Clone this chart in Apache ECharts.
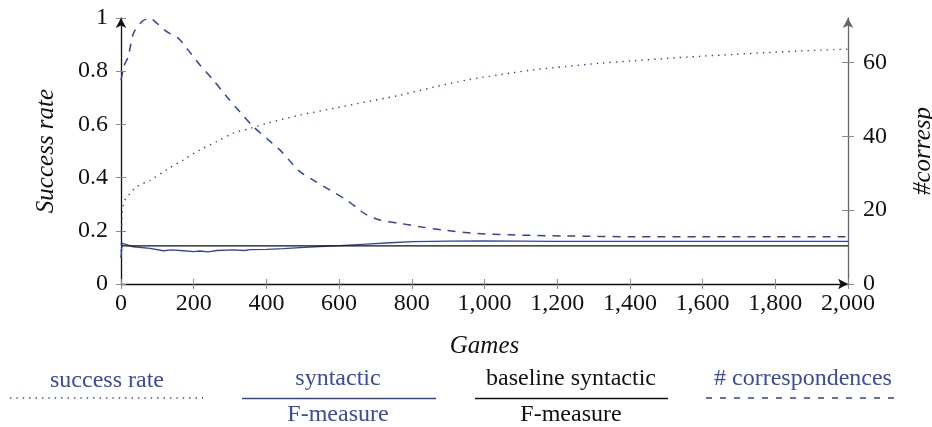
<!DOCTYPE html>
<html>
<head>
<meta charset="utf-8">
<script src="https://cdn.jsdelivr.net/npm/echarts@6/dist/echarts.min.js"></script>
<style>html,body{margin:0;padding:0;background:#fff}#c{width:932px;height:427px}</style>
</head>
<body>
<div id="c"></div>
<script>
// ---- data ----
var xTicks = [0, 200, 400, 600, 800, 1000, 1200, 1400, 1600, 1800, 2000];
var leftTicks = [0, 0.2, 0.4, 0.6, 0.8, 1];
var rightTicks = [0, 20, 40, 60];

var successGames = [0, 1, 2, 3, 5, 8, 11, 15, 25, 43, 80, 126, 171, 217, 263, 309, 355, 401, 492, 584, 676, 768, 860, 951, 1043, 1134, 1226, 1318, 1410, 1501, 1593, 1685, 1776, 1868, 1960, 2000];
var successRate = [0.10, 0.18, 0.22, 0.26, 0.29, 0.30, 0.316, 0.325, 0.34, 0.366, 0.39, 0.43, 0.466, 0.504, 0.535, 0.567, 0.585, 0.604, 0.635, 0.66, 0.685, 0.71, 0.74, 0.767, 0.787, 0.805, 0.818, 0.83, 0.839, 0.848, 0.856, 0.863, 0.87, 0.876, 0.881, 0.883];

var synGames = [0, 3, 11, 34, 80, 116, 140, 171, 200, 217, 240, 263, 309, 340, 355, 401, 447, 492, 547, 602, 676, 740, 804, 900, 997, 1000, 1200, 1500, 2000];
var synFMeasure = [0.10, 0.153, 0.150, 0.14, 0.134, 0.125, 0.128, 0.125, 0.122, 0.124, 0.121, 0.126, 0.128, 0.126, 0.129, 0.130, 0.133, 0.137, 0.141, 0.144, 0.150, 0.155, 0.159, 0.161, 0.162, 0.160, 0.160, 0.160, 0.160];

var baseGames = [0, 2000];
var baseFMeasure = [0.143, 0.143];

var corrGames = [0, 5, 10, 20, 34, 57, 78, 100, 126, 158, 185, 217, 254, 291, 327, 364, 401, 437, 470, 492, 529, 575, 621, 657, 676, 713, 768, 822, 887, 979, 1070, 1226, 1409, 1600, 1800, 2000];
var correspondences = [55.2, 57.5, 59.5, 61.5, 67.8, 71, 71.9, 70.5, 68.3, 66.5, 63.3, 59.3, 55.2, 50.7, 46.6, 42.6, 39.4, 36.3, 32.7, 30.4, 28.1, 25.4, 22.7, 20, 18.7, 17.3, 16.4, 15.5, 14.6, 13.7, 13.3, 13.0, 12.8, 12.8, 12.8, 12.8];

function pairs(xs, ys) { return xs.map(function (x, i) { return [x, ys[i]]; }); }

var BLUE = '#3243a3';
var TXT = '#3a4aa8';
var FONT = '"Liberation Serif", "Times New Roman", serif';
var TICKC = '#8a8a8a';

var chart = echarts.init(document.getElementById('c'), null, {renderer: 'canvas'});

function legendLine(x1, x2, y, color, dash, w) {
  return {type: 'line', shape: {x1: x1, y1: y, x2: x2, y2: y},
    style: {stroke: color, lineWidth: w, lineDash: dash}};
}
function legendText(cx, cy, t, color) {
  return {type: 'text', x: cx, y: cy, style: {text: t, fill: color, font: '24px ' + FONT, align: 'center', verticalAlign: 'middle'}};
}

chart.setOption({
  animation: false,
  grid: {left: 121, right: 84, top: 18, bottom: 143, containLabel: false, outerBoundsMode: 'none'},
  xAxis: [{
    type: 'value', min: 0, max: 2000, interval: 200, position: 'bottom',
    name: 'Games', nameLocation: 'middle', nameGap: 50,
    nameTextStyle: {fontFamily: FONT, fontStyle: 'italic', fontSize: 25, color: '#111'},
    axisLine: {show: true, onZero: false, lineStyle: {color: '#111', width: 1.3}, symbol: ['none', 'arrow'], symbolSize: [8, 10]},
    axisTick: {show: true, length: 5, lineStyle: {color: TICKC}, customValues: xTicks},
    axisLabel: {fontFamily: FONT, fontSize: 24, color: '#111', margin: 8, customValues: xTicks,
      formatter: function (v) { return String(v).replace(/\B(?=(\d{3})+(?!\d))/g, ','); }},
    splitLine: {show: false}
  }, {
    type: 'value', min: 0, max: 2000, interval: 200, position: 'bottom',
    axisLine: {show: false, onZero: false}, axisLabel: {show: false}, splitLine: {show: false},
    axisTick: {show: true, inside: true, length: 5, lineStyle: {color: TICKC}, customValues: xTicks}
  }],
  yAxis: [{
    type: 'value', min: 0, max: 1, interval: 0.2, position: 'left',
    name: 'Success rate', nameLocation: 'middle', nameGap: 62, nameRotate: 90,
    nameTextStyle: {fontFamily: FONT, fontStyle: 'italic', fontSize: 25, color: '#111'},
    axisLine: {show: true, onZero: false, lineStyle: {color: '#111', width: 1.3}, symbol: ['none', 'arrow'], symbolSize: [8, 10]},
    axisTick: {show: true, length: 5, lineStyle: {color: TICKC}, customValues: leftTicks},
    axisLabel: {fontFamily: FONT, fontSize: 24, color: '#111', margin: 13, customValues: leftTicks},
    splitLine: {show: false}
  }, {
    type: 'value', min: 0, max: 72, position: 'right',
    name: '#corresp', nameLocation: 'middle', nameGap: 63, nameRotate: 90,
    nameTextStyle: {fontFamily: FONT, fontStyle: 'italic', fontSize: 25, color: '#111'},
    axisLine: {show: true, onZero: false, lineStyle: {color: '#666', width: 1.3}, symbol: ['none', 'arrow'], symbolSize: [8, 10]},
    axisTick: {show: true, length: 6, lineStyle: {color: TICKC}, customValues: rightTicks},
    axisLabel: {fontFamily: FONT, fontSize: 24, color: '#111', margin: 15, customValues: rightTicks},
    splitLine: {show: false}
  }, {
    type: 'value', min: 0, max: 1, position: 'left',
    axisLine: {show: false, onZero: false}, axisLabel: {show: false}, splitLine: {show: false},
    axisTick: {show: true, inside: true, length: 5, lineStyle: {color: TICKC}, customValues: leftTicks}
  }, {
    type: 'value', min: 0, max: 72, position: 'right',
    axisLine: {show: false, onZero: false}, axisLabel: {show: false}, splitLine: {show: false},
    axisTick: {show: true, inside: true, length: 6, lineStyle: {color: TICKC}, customValues: rightTicks}
  }],
  series: [{
    name: 'success rate', type: 'line', xAxisIndex: 0, yAxisIndex: 0, showSymbol: false, smooth: 0.3,
    data: pairs(successGames, successRate),
    lineStyle: {color: BLUE, width: 1.4, type: [1.4, 5]}
  }, {
    name: 'syntactic F-measure', type: 'line', xAxisIndex: 0, yAxisIndex: 0, showSymbol: false,
    data: pairs(synGames, synFMeasure),
    lineStyle: {color: BLUE, width: 1.3}
  }, {
    name: 'baseline syntactic F-measure', type: 'line', xAxisIndex: 0, yAxisIndex: 0, showSymbol: false,
    data: pairs(baseGames, baseFMeasure),
    lineStyle: {color: '#111', width: 1.3}
  }, {
    name: '# correspondences', type: 'line', xAxisIndex: 0, yAxisIndex: 1, showSymbol: false, smooth: 0.3,
    data: pairs(corrGames, correspondences),
    lineStyle: {color: BLUE, width: 1.5, type: [8, 7]}
  }],
  graphic: [
    legendText(107, 381, 'success rate', TXT),
    legendLine(10, 203, 398, BLUE, [1.4, 5], 1.4),
    legendText(338, 379, 'syntactic', TXT),
    legendLine(242, 436, 398.5, BLUE, null, 1.4),
    legendText(338, 415, 'F-measure', TXT),
    legendText(571, 379, 'baseline syntactic', '#111'),
    legendLine(475, 668, 398.5, '#111', null, 1.4),
    legendText(571, 415, 'F-measure', '#111'),
    legendText(803, 379, '# correspondences', TXT),
    legendLine(706, 902, 398, BLUE, [6, 8], 1.5)
  ]
});
</script>
</body>
</html>
